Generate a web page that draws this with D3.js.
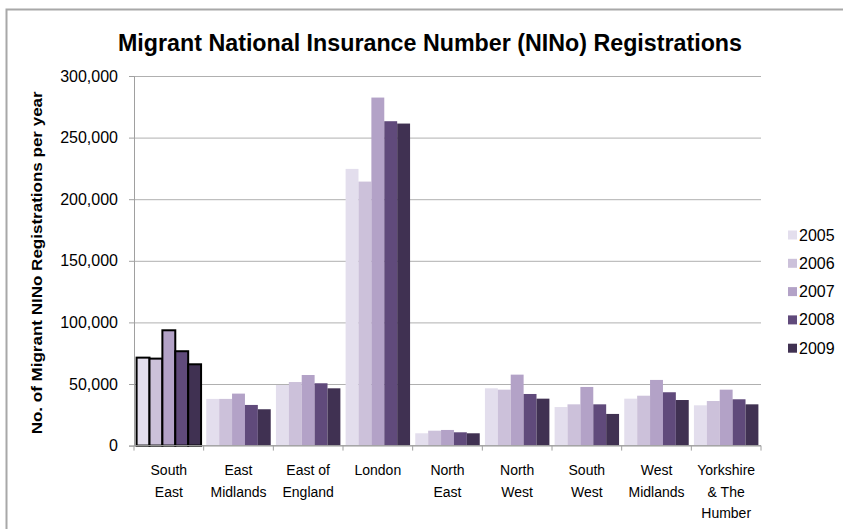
<!DOCTYPE html>
<html>
<head>
<meta charset="utf-8">
<script src="https://cdn.jsdelivr.net/npm/d3@7"></script>
<style>
  body { margin: 0; background: #fff; }
  text { font-family: "Liberation Sans", Arial, sans-serif; }
</style>
</head>
<body>
<div id="chart"></div>
<script>
// Migrant NINo registrations by region, 2005-2009

// Regions along the x axis (lines split for wrapping)
const regions = ["South East", "East Midlands", "East of England", "London", "North East",
  "North West", "South West", "West Midlands", "Yorkshire & The Humber"];
const regionLines = [["South", "East"], ["East", "Midlands"], ["East of", "England"], ["London"],
  ["North", "East"], ["North", "West"], ["South", "West"], ["West", "Midlands"], ["Yorkshire", "& The", "Humber"]];

const years = ["2005", "2006", "2007", "2008", "2009"];

// Values per year, one per region
const y2005 = [71400, 37900, 49200, 224600, 10000, 46500, 31300, 38100, 32700];
const y2006 = [70600, 37900, 51600, 214300, 12100, 45400, 33500, 40500, 36200];
const y2007 = [93600, 42200, 57300, 282500, 12700, 57600, 47600, 53300, 45400];
const y2008 = [76600, 33000, 50600, 263300, 10800, 41900, 33500, 43300, 37600];
const y2009 = [66000, 29500, 46500, 261400, 10000, 38100, 25700, 37000, 33500];
const series = [y2005, y2006, y2007, y2008, y2009];

const yTicks = [0, 50000, 100000, 150000, 200000, 250000, 300000];
const colours = ["#e3deed", "#ccc1da", "#b3a2c7", "#604a7b", "#403152"];

const W = 843, H = 529;
const plot = { left: 134, right: 761, top: 76, bottom: 445.6 };

const svg = d3.select("#chart").append("svg")
  .attr("width", W)
  .attr("height", H);

// Outer frame (only top and left edges show in the picture)
svg.append("path")
  .attr("d", `M6.5,${H} L6.5,9.5 L${W},9.5`)
  .attr("fill", "none")
  .attr("stroke", "#a8a8a8")
  .attr("stroke-width", 2);

// Title
svg.append("text")
  .attr("x", 430)
  .attr("y", 51)
  .attr("text-anchor", "middle")
  .attr("font-size", 23)
  .attr("font-weight", "bold")
  .attr("textLength", 624)
  .attr("lengthAdjust", "spacingAndGlyphs")
  .text("Migrant National Insurance Number (NINo) Registrations");

// Scales
const x0 = d3.scaleBand()
  .domain(regions)
  .range([plot.left, plot.right])
  .padding(0);

const x1 = d3.scaleBand()
  .domain(years)
  .range([2.6, x0.bandwidth() - 2.6])
  .padding(0);

const y = d3.scaleLinear()
  .domain([0, 300000])
  .range([plot.bottom, plot.top]);

const colour = d3.scaleOrdinal().domain(years).range(colours);

// Gridlines
svg.append("g")
  .attr("class", "grid")
  .attr("transform", `translate(${plot.left},0)`)
  .call(d3.axisLeft(y).tickValues(yTicks).tickSize(-(plot.right - plot.left)).tickFormat(""))
  .call(g => g.select(".domain").remove())
  .call(g => g.selectAll("line").attr("stroke", "#b0b0b0"));

// Y axis with labels
svg.append("g")
  .attr("transform", `translate(${plot.left},0)`)
  .call(d3.axisLeft(y).tickValues(yTicks).tickSize(5).tickPadding(11).tickFormat(d3.format(",")))
  .call(g => g.select(".domain").attr("stroke", "#a0a0a0"))
  .call(g => g.selectAll("line").attr("stroke", "#a0a0a0"))
  .call(g => g.selectAll("text")
    .attr("font-size", 16)
    .attr("fill", "#000")
    .style("font-family", "'Liberation Sans', Arial, sans-serif"));

// Y axis title
svg.append("text")
  .attr("transform", `translate(42,${(plot.top + plot.bottom) / 2 + 2}) rotate(-90)`)
  .attr("text-anchor", "middle")
  .attr("font-size", 15)
  .attr("font-weight", "bold")
  .attr("textLength", 343)
  .attr("lengthAdjust", "spacingAndGlyphs")
  .text("No. of Migrant NINo Registrations per year");

// Bars
const groups = svg.append("g").selectAll("g")
  .data(regions)
  .join("g")
  .attr("transform", d => `translate(${x0(d)},0)`);

groups.selectAll("rect")
  .data((d, i) => years.map((yr, j) => ({ region: d, year: yr, value: series[j][i] })))
  .join("rect")
  .attr("x", d => x1(d.year))
  .attr("y", d => y(d.value))
  .attr("width", x1.bandwidth())
  .attr("height", d => y(0) - y(d.value))
  .attr("fill", d => colour(d.year))
  .attr("stroke", d => d.region === "South East" ? "#000" : "none")
  .attr("stroke-width", 2);

// X axis line and boundary ticks
svg.append("line")
  .attr("x1", plot.left).attr("x2", plot.right)
  .attr("y1", y(0)).attr("y2", y(0))
  .attr("stroke", "#a0a0a0");

const bounds = regions.map(r => x0(r)).concat([plot.right]);
svg.append("g").selectAll("line")
  .data(bounds)
  .join("line")
  .attr("x1", d => d).attr("x2", d => d)
  .attr("y1", y(0)).attr("y2", y(0) + 5)
  .attr("stroke", "#a0a0a0");

// X labels (wrapped)
const xl = svg.append("g").selectAll("text")
  .data(regions)
  .join("text")
  .attr("x", d => x0(d) + x0.bandwidth() / 2)
  .attr("y", 475)
  .attr("text-anchor", "middle")
  .attr("font-size", 14);

xl.selectAll("tspan")
  .data((d, i) => regionLines[i])
  .join("tspan")
  .attr("x", function () { return d3.select(this.parentNode).attr("x"); })
  .attr("dy", (d, i) => i === 0 ? 0 : 21.5)
  .text(d => d);

// Legend
const legend = svg.append("g").selectAll("g")
  .data(years)
  .join("g")
  .attr("transform", (d, i) => `translate(788,${235 + i * 28.3})`);

legend.append("rect")
  .attr("x", 0).attr("y", -4.5)
  .attr("width", 9).attr("height", 9)
  .attr("fill", d => colour(d));

legend.append("text")
  .attr("x", 11)
  .attr("y", 5.5)
  .attr("font-size", 16)
  .text(d => d);
</script>
</body>
</html>
